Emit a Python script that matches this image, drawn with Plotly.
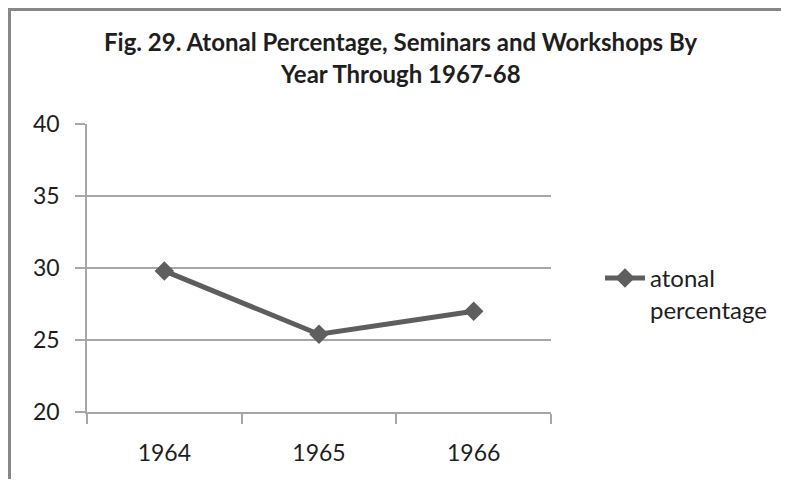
import plotly.graph_objects as go

years = ["1964", "1965", "1966"]
atonal_pct = [29.8, 25.4, 27.0]
y_ticks = [20, 25, 30, 35, 40]
title_lines = ["Fig. 29. Atonal Percentage, Seminars and Workshops By", "Year Through 1967-68"]
series_name = "atonal<br>percentage"

OFF = 8  # default page body margin
W, H = 789 - OFF, 495 - 3 * OFF  # no vertical overflow
L, R, T, B = 87, 551, 124, 412  # plot area in page pixels


def px_x(p):
    return (p - L) / (R - L)


def px_y(p):
    return (B - p) / (B - T)


FONT = "Lato, Carlito, Calibri, sans-serif"
GRID = "#a6a6a6"
LINE = "#5e5e5e"
TXT = "#1e1e1e"

fig = go.Figure()
fig.add_trace(go.Scatter(
    x=years, y=atonal_pct, mode="lines+markers", name=series_name,
    line=dict(color=LINE, width=5),
    marker=dict(symbol="diamond", size=15, color=LINE),
    showlegend=True,
))

fig.update_layout(
    width=W, height=H,
    margin=dict(l=L - OFF, r=W + OFF - R, t=T - OFF, b=H + OFF - B, pad=0),
    paper_bgcolor="white", plot_bgcolor="white",
    font=dict(family=FONT, size=23, color=TXT),
    showlegend=True,
    legend=dict(x=px_x(600), y=px_y(256), xanchor="left", yanchor="top",
                valign="top", font=dict(size=24, color=TXT),
                bgcolor="rgba(0,0,0,0)", itemwidth=40),
    xaxis=dict(type="category", range=[-0.5, 2.5], showgrid=False,
               showline=True, linecolor=GRID, linewidth=1.5,
               ticks="outside", ticklen=10, tickcolor=GRID, tickwidth=1.5,
               tickson="boundaries", ticklabelstandoff=20,
               tickfont=dict(size=23, color=TXT)),
    yaxis=dict(range=[20, 40], tickvals=y_ticks, showgrid=True, gridcolor=GRID,
               gridwidth=1.5, showline=True, linecolor=GRID, linewidth=1.5,
               ticks="outside", ticklen=10, tickcolor=GRID, tickwidth=1.5,
               zeroline=False, ticklabelstandoff=11,
               tickfont=dict(size=23, color=TXT)),
)

# title lines
for txt, ypx in zip(title_lines, [41, 73]):
    fig.add_annotation(text=f"<b>{txt}</b>", xref="paper", yref="paper",
                       x=px_x(400), y=px_y(ypx), xanchor="center", yanchor="middle",
                       showarrow=False, font=dict(family=FONT, size=24, color=TXT))

# chart-area border (left and top edges visible), at the figure's own edge
bx, by = OFF + 1.5, OFF + 1.5
fig.add_shape(type="line", xref="paper", yref="paper", x0=px_x(bx), x1=px_x(bx),
              y0=px_y(OFF), y1=px_y(H + OFF + 20), line=dict(color="#878787", width=3))
fig.add_shape(type="line", xref="paper", yref="paper", x0=px_x(OFF), x1=px_x(W + OFF + 30),
              y0=px_y(by), y1=px_y(by), line=dict(color="#878787", width=3))

fig.write_html("out.html")
